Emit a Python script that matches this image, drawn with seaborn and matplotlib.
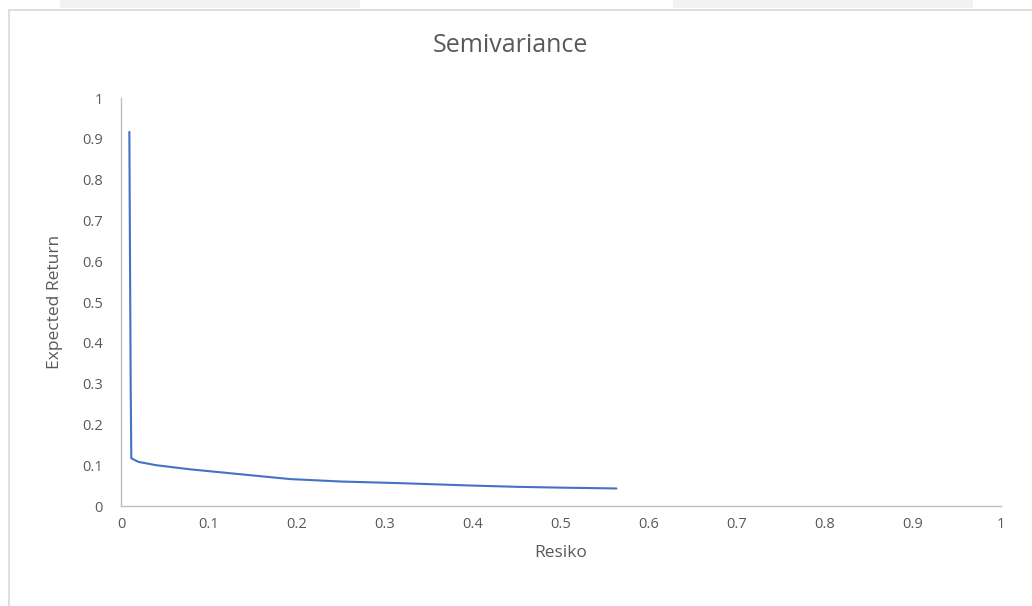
import matplotlib
matplotlib.use("Agg")
import matplotlib.pyplot as plt
import seaborn as sns
import pandas as pd
from matplotlib.patches import Rectangle
from matplotlib.lines import Line2D

# Data
resiko = [0.0095, 0.0100, 0.0105, 0.0110, 0.0117, 0.020, 0.040, 0.078, 0.116,
          0.192, 0.250, 0.317, 0.400, 0.450, 0.500, 0.563]
expected_return = [0.917, 0.700, 0.500, 0.300, 0.117, 0.108, 0.100, 0.090, 0.082,
                   0.066, 0.060, 0.056, 0.050, 0.047, 0.045, 0.043]
x_ticks = [0, 0.1, 0.2, 0.3, 0.4, 0.5, 0.6, 0.7, 0.8, 0.9, 1]
y_ticks = [0, 0.1, 0.2, 0.3, 0.4, 0.5, 0.6, 0.7, 0.8, 0.9, 1]
tick_labels = ["0", "0.1", "0.2", "0.3", "0.4", "0.5", "0.6", "0.7", "0.8", "0.9", "1"]

df = pd.DataFrame({"Resiko": resiko, "Expected Return": expected_return})

sns.set_theme(style="white")
plt.rcParams["font.family"] = ["Open Sans", "DejaVu Sans"]

W, H = 1032, 606
fig = plt.figure(figsize=(W / 100, H / 100), dpi=100)
fig.patch.set_facecolor("white")

# Decorative frame and tabs (Excel-like)
fig.add_artist(Rectangle((60 / W, 1 - 8 / H), 300 / W, 8 / H, transform=fig.transFigure,
                         facecolor="#F2F2F2", edgecolor="none"))
fig.add_artist(Rectangle((673 / W, 1 - 8 / H), 300 / W, 8 / H, transform=fig.transFigure,
                         facecolor="#F2F2F2", edgecolor="none"))
fig.add_artist(Line2D([9 / W, 9 / W], [0, 1 - 10 / H], transform=fig.transFigure,
                      color="#D9D9D9", lw=1.2))
fig.add_artist(Line2D([9 / W, 1], [1 - 10 / H, 1 - 10 / H], transform=fig.transFigure,
                      color="#D9D9D9", lw=1.2))

ax = fig.add_axes([121 / W, 100 / H, 880 / W, 408 / H])
sns.lineplot(data=df, x="Resiko", y="Expected Return", sort=False, estimator=None,
             color="#4472C4", linewidth=1.5, ax=ax)

ax.set_xlim(0, 1)
ax.set_ylim(0, 1)
ax.set_xticks(x_ticks)
ax.set_xticklabels(tick_labels)
ax.set_yticks(y_ticks)
ax.set_yticklabels(tick_labels)
ax.tick_params(axis="both", length=0, labelsize=10.5, labelcolor="#595959")
ax.tick_params(axis="x", pad=8)
ax.tick_params(axis="y", pad=13)

for s in ["top", "right"]:
    ax.spines[s].set_visible(False)
for s in ["left", "bottom"]:
    ax.spines[s].set_color("#BFBFBF")
    ax.spines[s].set_linewidth(1.0)

ax.set_xlabel("Resiko", fontsize=12.5, color="#595959", labelpad=9)
ax.set_ylabel("Expected Return", fontsize=12.5, color="#595959", labelpad=14)

fig.text(510 / W, 1 - 45 / H, "Semivariance", ha="center", va="center",
         fontsize=18, color="#595959")

fig.savefig("out.png", dpi=100, facecolor="white")
